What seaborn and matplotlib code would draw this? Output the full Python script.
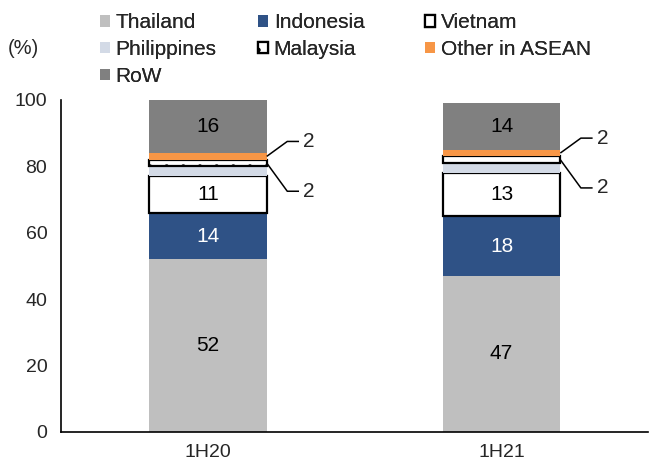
import numpy as np
import pandas as pd
import matplotlib.pyplot as plt
import seaborn as sns

# ==========================================================
# DADOS
# ==========================================================
periods = ["1H20", "1H21"]
series = ["Thailand", "Indonesia", "Vietnam", "Philippines", "Malaysia", "Other in ASEAN", "RoW"]
thailand = [52, 47]
indonesia = [14, 18]
vietnam = [11, 13]
philippines = [3, 3]
malaysia = [2, 2]
other_asean = [2, 2]
row = [16, 14]

values = {
    "Thailand": thailand,
    "Indonesia": indonesia,
    "Vietnam": vietnam,
    "Philippines": philippines,
    "Malaysia": malaysia,
    "Other in ASEAN": other_asean,
    "RoW": row,
}

# estilo de cada serie
styles = {
    "Thailand": dict(color="#bfbfbf", edgecolor="none", linewidth=0),
    "Indonesia": dict(color="#2f5286", edgecolor="none", linewidth=0),
    "Vietnam": dict(color="white", edgecolor="black", linewidth=1.6),
    "Philippines": dict(color="#d3dae6", edgecolor="none", linewidth=0),
    "Malaysia": dict(color="white", edgecolor="black", linewidth=1.6, hatch="."),
    "Other in ASEAN": dict(color="#f79646", edgecolor="none", linewidth=0),
    "RoW": dict(color="#808080", edgecolor="none", linewidth=0),
}
inside_labels = ["Thailand", "Indonesia", "Vietnam", "RoW"]

# ==========================================================
# CONFIGURAÇÕES VISUAIS
# ==========================================================
sns.set_style("white")
plt.rcParams["font.family"] = ["Liberation Sans", "DejaVu Sans"]
plt.rcParams["font.size"] = 14
plt.rcParams["hatch.linewidth"] = 1.0
plt.rcParams["hatch.color"] = "#444444"

fig = plt.figure(figsize=(6.51, 4.67), dpi=100)
ax = fig.add_axes([0.094, 0.075, 0.902, 0.711])

# ==========================================================
# BARRAS EMPILHADAS
# ==========================================================
bottom = np.zeros(len(periods))
handles = {}
mids = {}
for name in series:
    vals = np.array(values[name], dtype=float)
    df = pd.DataFrame({"periodo": periods, "valor": vals})
    sns.barplot(data=df, x="periodo", y="valor", bottom=bottom, width=0.4,
                saturation=1, ax=ax, label=name, **styles[name])
    handles[name] = ax.containers[-1]
    mids[name] = bottom + vals / 2
    if name in inside_labels:
        for i, v in enumerate(vals):
            ax.text(i, bottom[i] + v / 2, f"{v:.0f}", ha="center", va="center",
                    fontsize=15, color="white" if name == "Indonesia" else "black")
    bottom = bottom + vals

if ax.get_legend() is not None:
    ax.get_legend().remove()

# rótulos com linha de chamada (Other in ASEAN e Malaysia)
for i in range(len(periods)):
    for name, dy in [("Other in ASEAN", 4.5), ("Malaysia", -8.5)]:
        y0 = mids[name][i]
        y1 = y0 + dy
        ax.plot([i + 0.2, i + 0.27, i + 0.31], [y0, y1, y1], color="black", lw=1.1,
                solid_capstyle="butt", clip_on=False)
        ax.text(i + 0.325, y1, f"{values[name][i]:.0f}", ha="left", va="center",
                fontsize=15)

# ==========================================================
# EIXOS
# ==========================================================
ax.set_xlim(-0.5, 1.5)
ax.set_ylim(0, 100)
ax.set_yticks(range(0, 101, 20))
ax.set_xlabel("")
ax.set_ylabel("")
ax.set_xticks([-0.5, 0.5, 1.5], minor=True)
ax.tick_params(axis="x", which="major", length=0, pad=9, labelsize=14)
ax.tick_params(axis="x", which="minor", length=5, width=1.2, direction="out")
ax.tick_params(axis="y", length=5, width=1.2, direction="out", labelsize=14, pad=5)
for s in ["top", "right"]:
    ax.spines[s].set_visible(False)
for s in ["left", "bottom"]:
    ax.spines[s].set_color("black")
    ax.spines[s].set_linewidth(1.2)

fig.text(0.012, 1 - 48 / 467, "(%)", fontsize=14.5, va="center", ha="left")

# legenda em três colunas, uma legenda por coluna
colunas = [
    (["Thailand", "Philippines", "RoW"], 100),
    (["Indonesia", "Malaysia"], 258),
    (["Vietnam", "Other in ASEAN"], 425),
]
for nomes, x_px in colunas:
    leg = fig.legend([handles[n] for n in nomes], nomes, frameon=False,
                     loc="upper left", bbox_to_anchor=(x_px / 651, 1 - 13 / 467),
                     fontsize=15, handlelength=0.5, handleheight=0.5,
                     handletextpad=0.25, labelspacing=0.38, borderaxespad=0,
                     borderpad=0)
    fig.add_artist(leg)

plt.savefig("out.png", dpi=100)
plt.close()
